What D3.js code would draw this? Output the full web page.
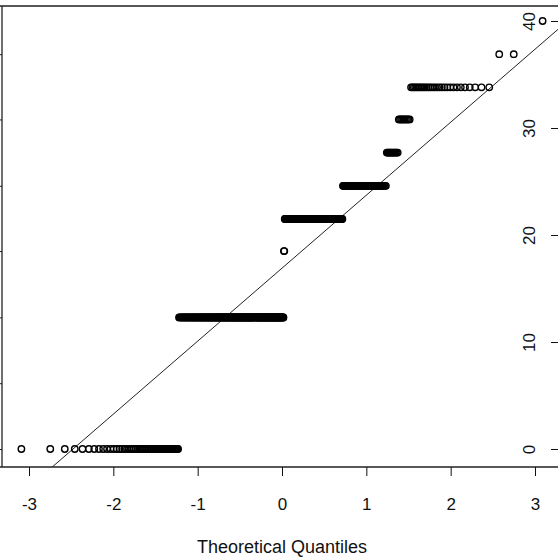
<!DOCTYPE html>
<html>
<head>
<meta charset="utf-8">
<script src="https://cdn.jsdelivr.net/npm/d3@7"></script>
<style>
  body { margin: 0; background: #fff; }
  svg { display: block; font-family: "Liberation Sans", Arial, sans-serif; }
</style>
</head>
<body>
<div id="chart"></div>
<script>
// sample values (sorted) and how many observations sit at each value
const sampleValues = [0, 12.3, 18.5, 21.5, 24.6, 27.7, 30.8, 33.8, 36.9, 40];
const sampleCounts = [55, 199, 2, 126, 64, 12, 10, 29, 2, 1];

const xTicks = [-3, -2, -1, 0, 1, 2, 3];
const yTicks = [0, 10, 20, 30, 40];
const frameTicks = [0, 6.15, 12.3, 18.5, 24.6, 30.8, 36.9];

const width = 558;
const height = 558;

// inverse normal cdf (Acklam)
function qnorm(p) {
    const a = [-3.969683028665376e+01, 2.209460984245205e+02, -2.759285104469687e+02, 1.383577518672690e+02, -3.066479806614716e+01, 2.506628277459239e+00];
    const b = [-5.447609879822406e+01, 1.615858368580409e+02, -1.556989798598866e+02, 6.680131188771972e+01, -1.328068155288572e+01];
    const c = [-7.784894002430293e-03, -3.223964580411365e-01, -2.400758277161838e+00, -2.549732539343734e+00, 4.374664141464968e+00, 2.938163982698783e+00];
    const d = [7.784695709041462e-03, 3.224671290700398e-01, 2.445134137142996e+00, 3.754408661907416e+00];
    const plow = 0.02425, phigh = 1 - plow;
    let q, r;
    if (p < plow) {
        q = Math.sqrt(-2 * Math.log(p));
        return (((((c[0]*q+c[1])*q+c[2])*q+c[3])*q+c[4])*q+c[5]) / ((((d[0]*q+d[1])*q+d[2])*q+d[3])*q+1);
    }
    if (p <= phigh) {
        q = p - 0.5; r = q * q;
        return (((((a[0]*r+a[1])*r+a[2])*r+a[3])*r+a[4])*r+a[5])*q / (((((b[0]*r+b[1])*r+b[2])*r+b[3])*r+b[4])*r+1);
    }
    q = Math.sqrt(-2 * Math.log(1 - p));
    return -(((((c[0]*q+c[1])*q+c[2])*q+c[3])*q+c[4])*q+c[5]) / ((((d[0]*q+d[1])*q+d[2])*q+d[3])*q+1);
}

// expand to the sorted sample
const sample = [];
sampleValues.forEach((v, i) => {
    for (let k = 0; k < sampleCounts[i]; k++) sample.push(v);
});
const n = sample.length;
const points = sample.map((v, i) => ({ q: qnorm((i + 0.5) / n), v }));

// qqline through the quartiles
const q1 = d3.quantile(sample, 0.25), q3 = d3.quantile(sample, 0.75);
const slope = (q3 - q1) / (qnorm(0.75) - qnorm(0.25));
const intercept = q1 - slope * qnorm(0.25);

const x = d3.scaleLinear().domain([-3, 3]).range([29, 535]);
const y = d3.scaleLinear().domain([0, 40]).range([449, 21]);

const box = { left: 2, top: 6, bottom: 467 };

const svg = d3.select('#chart')
    .append('svg')
    .attr('width', width)
    .attr('height', height);

svg.append('defs').append('clipPath')
    .attr('id', 'plotclip')
    .append('rect')
    .attr('x', box.left)
    .attr('y', box.top)
    .attr('width', width)
    .attr('height', box.bottom - box.top);

// frame: left, top, bottom
svg.append('path')
    .attr('d', `M0,${box.top}H${width}M${box.left},${box.top}V${box.bottom}M0,${box.bottom}H${width}`)
    .attr('fill', 'none')
    .attr('stroke', '#222')
    .attr('stroke-width', 1.3);

// small ticks on the left edge of the frame
svg.append('g')
    .attr('transform', `translate(${box.left},0)`)
    .call(d3.axisLeft(y).tickValues(frameTicks).tickSize(3).tickFormat(''))
    .call(g => g.select('.domain').remove())
    .call(g => g.selectAll('line').attr('stroke', '#222'));

// bottom axis
const xAxis = svg.append('g')
    .attr('transform', `translate(0,${box.bottom})`)
    .call(d3.axisBottom(x).tickValues(xTicks).tickSize(9).tickPadding(22).tickFormat(d3.format('d')));
xAxis.select('.domain').remove();
xAxis.selectAll('line').attr('stroke', '#111');
xAxis.selectAll('text')
    .attr('font-size', 17)
    .attr('fill', '#111')
    .attr('font-family', '"Liberation Sans", Arial, sans-serif')
    .text(d => d < 0 ? '-' + Math.abs(d) : d);

// right-hand y axis with rotated labels
const yAxis = svg.append('g')
    .attr('transform', `translate(${width},0)`)
    .call(d3.axisLeft(y).tickValues(yTicks).tickSize(7).tickFormat(''));
yAxis.select('.domain').remove();
yAxis.selectAll('line').attr('stroke', '#111');
yAxis.selectAll('.tick').append('text')
    .attr('transform', 'translate(-23,0) rotate(-90)')
    .attr('text-anchor', 'middle')
    .attr('font-size', 17)
    .attr('fill', '#111')
    .attr('font-family', '"Liberation Sans", Arial, sans-serif')
    .text(d => d);

// axis title
svg.append('text')
    .attr('x', x(0))
    .attr('y', 553)
    .attr('text-anchor', 'middle')
    .attr('font-size', 18)
    .attr('fill', '#111')
    .text('Theoretical Quantiles');

const plot = svg.append('g').attr('clip-path', 'url(#plotclip)');

// qq line
plot.append('line')
    .attr('x1', x(-4))
    .attr('y1', y(intercept + slope * -4))
    .attr('x2', x(4))
    .attr('y2', y(intercept + slope * 4))
    .attr('stroke', '#222')
    .attr('stroke-width', 1);

// sample points
plot.append('g')
    .selectAll('circle')
    .data(points)
    .enter().append('circle')
    .attr('cx', d => x(d.q))
    .attr('cy', d => y(d.v))
    .attr('r', 3.2)
    .attr('fill', 'none')
    .attr('stroke', '#000')
    .attr('stroke-width', 1.4);
</script>
</body>
</html>
